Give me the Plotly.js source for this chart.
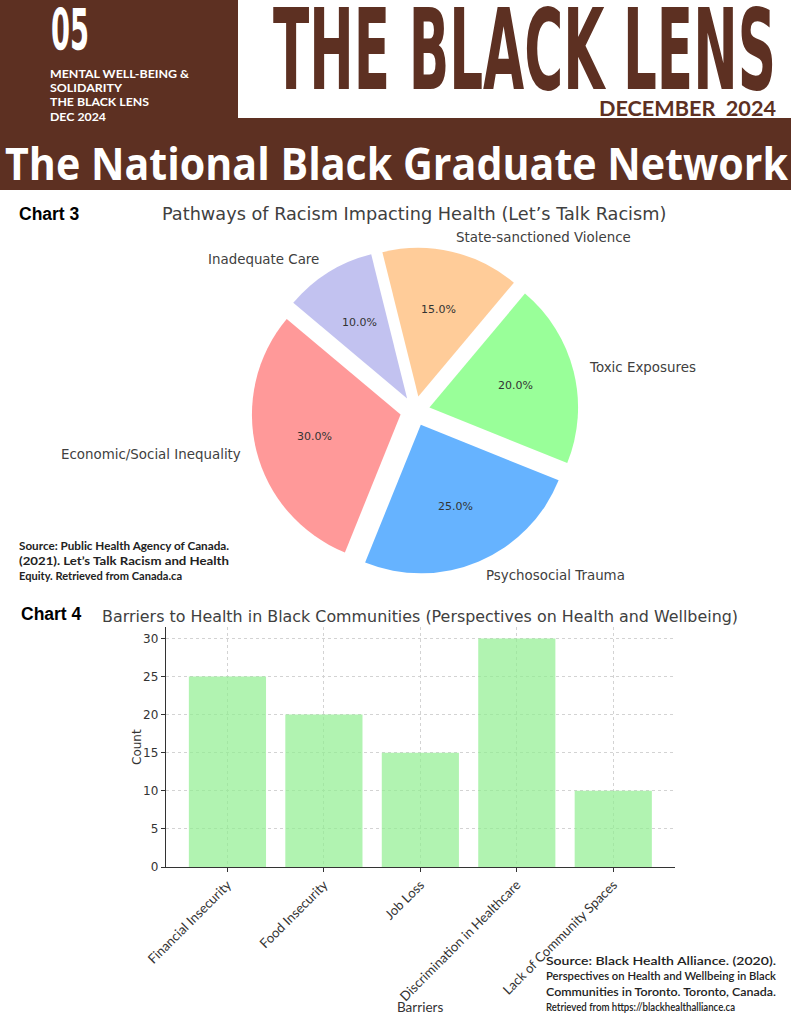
<!DOCTYPE html>
<html><head><meta charset="utf-8">
<script src="https://cdn.plot.ly/plotly-3.0.1.min.js"></script>
<style>html,body{margin:0;padding:0;background:#fff;}#chart{width:791px;height:1024px;}</style>
</head><body><div id="chart"></div>
<script>
const W = 791, H = 1024;

// ---- Data: Chart 3 (pie) ----
const pieLabels = ["Economic/Social Inequality", "Psychosocial Trauma", "Toxic Exposures", "State-sanctioned Violence", "Inadequate Care"];
const pieValues = [30, 25, 20, 15, 10];
const pieColors = ["#ff9999", "#66b3ff", "#99ff99", "#ffcc99", "#c2c2f0"];
const pieExplode = [0.1, 0.1, 0.1, 0.1, 0.1];
const pieStartAngle = 140;
const pieTitle = "Pathways of Racism Impacting Health (Let’s Talk Racism)";

// ---- Data: Chart 4 (bar) ----
const barCategories = ["Financial Insecurity", "Food Insecurity", "Job Loss", "Discrimination in Healthcare", "Lack of Community Spaces"];
const barValues = [25, 20, 15, 30, 10];
const yTickValues = [0, 5, 10, 15, 20, 25, 30];
const barTitle = "Barriers to Health in Black Communities (Perspectives on Health and Wellbeing)";
const xAxisTitle = "Barriers";
const yAxisTitle = "Count";

// ---- Page texts ----
const sideLines = ["MENTAL WELL-BEING &", "SOLIDARITY", "THE BLACK LENS", "DEC 2024"];
const sideWidths = [139, 72, 99, 56];
const source3 = ["Source: Public Health Agency of Canada.", "(2021). Let’s Talk Racism and Health", "Equity. Retrieved from Canada.ca"];
const source4 = ["Source: Black Health Alliance. (2020).", "Perspectives on Health and Wellbeing in Black", "Communities in Toronto. Toronto, Canada.", "Retrieved from https://blackhealthalliance.ca"];

const BROWN = "#5d3022";
const X = px => px / W;
const Y = py => 1 - py / H;

const annotations = [];
const fits = [];
function addText(o, fitW) {
  const a = Object.assign({xref: 'paper', yref: 'paper', showarrow: false, borderpad: 0}, o);
  if (a.xanchor === 'left' && !a.align) a.align = 'left';
  annotations.push(a);
  if (fitW) fits.push({i: annotations.length - 1, w: fitW});
}

// Header
addText({x: X(50), y: Y(30), text: "05", xanchor: 'left', yanchor: 'middle',
  font: {family: "Liberation Sans Narrow, DejaVu Sans Condensed, sans-serif", size: 57, color: '#fff', weight: 700}}, 38);
sideLines.forEach((t, k) => addText({x: X(49), y: Y(73 + k * 14.4), text: t, xanchor: 'left', yanchor: 'middle',
  font: {family: "Lato, sans-serif", size: 12, color: '#fff', weight: 700}}, sideWidths[k]));
addText({x: X(272), y: Y(50), text: "THE BLACK LENS", xanchor: 'left', yanchor: 'middle',
  font: {family: "Liberation Sans Narrow, DejaVu Sans Condensed, sans-serif", size: 112, color: BROWN, weight: 700}}, 503);
addText({x: X(598), y: Y(107), text: "DECEMBER  2024", xanchor: 'left', yanchor: 'middle',
  font: {family: "Lato, sans-serif", size: 21, color: BROWN, weight: 700}}, 177);
addText({x: X(4), y: Y(163), text: "The National Black Graduate Network", xanchor: 'left', yanchor: 'middle',
  font: {family: "Open Sans, sans-serif", size: 44, color: '#fff', weight: 700}}, 783);

// Chart labels
addText({x: X(18), y: Y(214), text: "Chart 3", xanchor: 'left', yanchor: 'middle',
  font: {family: "Liberation Sans, Arial, sans-serif", size: 17.5, color: '#000', weight: 700}});
addText({x: X(20), y: Y(614), text: "Chart 4", xanchor: 'left', yanchor: 'middle',
  font: {family: "Liberation Sans, Arial, sans-serif", size: 17.5, color: '#000', weight: 700}});

// Titles
addText({x: X(414), y: Y(214), text: pieTitle, xanchor: 'center', yanchor: 'middle',
  font: {family: "DejaVu Sans, sans-serif", size: 17.7, color: '#404040'}});
addText({x: X(420), y: Y(616), text: barTitle, xanchor: 'center', yanchor: 'middle',
  font: {family: "DejaVu Sans, sans-serif", size: 15.9, color: '#404040'}});

// Axis titles
addText({x: X(420), y: Y(1007), text: xAxisTitle, xanchor: 'center', yanchor: 'middle',
  font: {family: "Lato, sans-serif", size: 13.5, color: '#333'}});
addText({x: X(137), y: Y(747), text: yAxisTitle, xanchor: 'center', yanchor: 'middle', textangle: -90,
  font: {family: "DejaVu Sans, sans-serif", size: 12, color: '#333'}});

// Sources
source3.forEach((t, k) => addText({x: X(18), y: Y(545 + k * 15), text: t, xanchor: 'left', yanchor: 'middle',
  font: {family: "Lato, sans-serif", size: 11, color: '#222', weight: 700}}, k < 2 ? 210 : 163));
source4.forEach((t, k) => addText({x: X(545), y: Y(960 + k * 15.5), text: t, xanchor: 'left', yanchor: 'middle',
  font: {family: "Lato, sans-serif", size: 11, color: '#222', weight: 600}}, k < 3 ? 230 : 189));

// Pie geometry (domain in pixels)
const pieCx = 415, pieCy = 411, pieBox = 327;
const maxPull = Math.max(...pieExplode);
const pieR = pieBox / (2 + 2 * maxPull);
const total = pieValues.reduce((a, b) => a + b, 0);
let acc = 0;
pieLabels.forEach((lab, i) => {
  const frac = pieValues[i] / total;
  const mid = (pieStartAngle + 360 * (acc + frac / 2)) * Math.PI / 180;
  acc += frac;
  const c = Math.cos(mid), s = Math.sin(mid);
  const ld = (1.1 + pieExplode[i]) * pieR, pd = (0.6 + pieExplode[i]) * pieR;
  addText({x: X(pieCx + ld * c), y: Y(pieCy - ld * s), text: lab, xanchor: c > 0 ? 'left' : 'right', yanchor: 'middle',
    font: {family: "DejaVu Sans, sans-serif", size: 13.4, color: '#404040'}});
  addText({x: X(pieCx + pd * c), y: Y(pieCy - pd * s), text: (100 * frac).toFixed(1) + '%', xanchor: 'center', yanchor: 'middle',
    font: {family: "DejaVu Sans, sans-serif", size: 11, color: '#333'}});
});

// Plotly (counterclockwise): first slice lies clockwise of the rotation angle (measured clockwise from 12 o'clock)
const firstSliceEnd = pieStartAngle + 360 * pieValues[0] / total;
const pieTrace = {
  type: 'pie', labels: pieLabels, values: pieValues, sort: false,
  direction: 'counterclockwise', rotation: 90 - firstSliceEnd, pull: pieExplode,
  marker: {colors: pieColors, line: {width: 0}}, textinfo: 'none', hoverinfo: 'skip', showlegend: false,
  domain: {x: [X(pieCx - pieBox / 2), X(pieCx + pieBox / 2)], y: [Y(pieCy + pieBox / 2), Y(pieCy - pieBox / 2)]}
};

const barTrace = {
  type: 'bar', x: barCategories, y: barValues, width: 0.8,
  marker: {color: 'rgba(144,238,144,0.7)', line: {width: 0}}, hoverinfo: 'skip', showlegend: false,
  xaxis: 'x', yaxis: 'y'
};

const layout = {
  width: W, height: H, autosize: false,
  margin: {l: 0, r: 0, t: 0, b: 0, pad: 0},
  paper_bgcolor: '#fff', plot_bgcolor: 'rgba(0,0,0,0)',
  showlegend: false,
  xaxis: {
    domain: [X(165.7), X(675)], range: [-0.64, 4.64], type: 'category', anchor: 'y',
    showline: true, linecolor: '#333', linewidth: 1, ticks: 'outside', ticklen: 4, tickcolor: '#333',
    tickangle: -45, tickfont: {family: "Lato, sans-serif", size: 13.2, color: '#333'},
    showgrid: true, gridcolor: '#d3d3d3', griddash: 'dot', gridwidth: 1, zeroline: false,
    automargin: false
  },
  yaxis: {
    domain: [Y(867), Y(627)], range: [0, 31.5], anchor: 'x',
    tickmode: 'array', tickvals: yTickValues,
    showline: true, linecolor: '#333', linewidth: 1, ticks: 'outside', ticklen: 4, tickcolor: '#333',
    tickfont: {family: "DejaVu Sans, sans-serif", size: 12, color: '#333'},
    showgrid: true, gridcolor: '#d3d3d3', griddash: 'dot', gridwidth: 1, zeroline: false,
    automargin: false
  },
  shapes: [
    {type: 'rect', xref: 'paper', yref: 'paper', x0: 0, x1: X(238), y0: Y(118), y1: 1, fillcolor: BROWN, line: {width: 0}, layer: 'below'},
    {type: 'rect', xref: 'paper', yref: 'paper', x0: 0, x1: 1, y0: Y(190), y1: Y(118), fillcolor: BROWN, line: {width: 0}, layer: 'below'}
  ],
  annotations: annotations
};

Plotly.newPlot('chart', [pieTrace, barTrace], layout, {staticPlot: true, displayModeBar: false}).then(gd => {
  fits.forEach(f => {
    const g = gd.querySelector('g.annotation[data-index="' + f.i + '"]');
    if (!g) return;
    const t = g.querySelector('text.annotation-text');
    if (t) { t.setAttribute('textLength', f.w); t.setAttribute('lengthAdjust', 'spacingAndGlyphs'); }
    g.querySelectorAll('rect').forEach(r => { if (r.hasAttribute('width')) r.setAttribute('width', f.w); });
  });
});
</script>
</body></html>
